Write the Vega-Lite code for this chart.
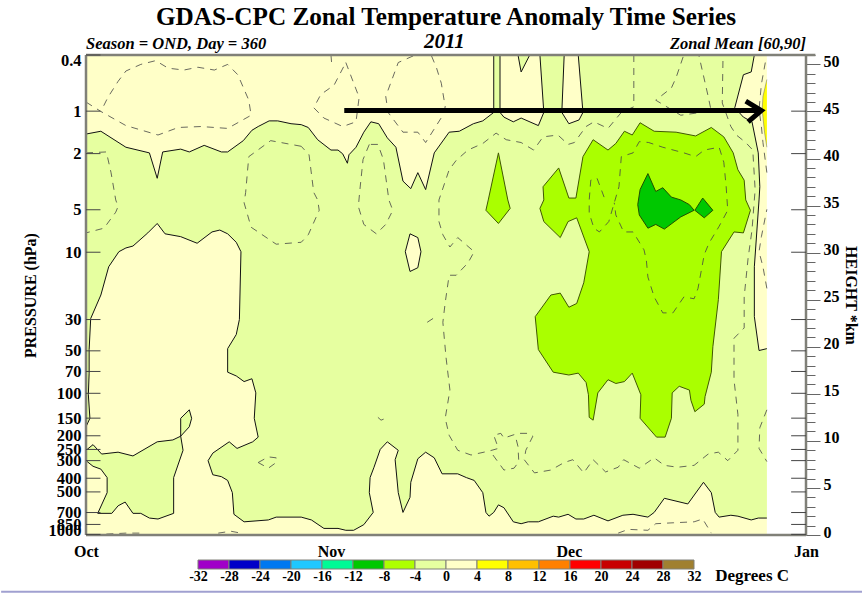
{"$schema":"https://vega.github.io/schema/vega-lite/v6.json","background":"white","padding":0,"bounds":"flush","spacing":5,"config":{"font":"Liberation Serif","view":{"stroke":null},"axis":{"grid":false}},
"datasets":{
"paleGreen":[{"d":87,"z":1.8},{"d":85.9,"z":1.8},{"d":85,"z":1.6},{"d":83.3,"z":2},{"d":82.4,"z":2.1},{"d":80.9,"z":1.9},{"d":80.4,"z":2.4},{"d":79.9,"z":4.5},{"d":78.9,"z":5.6},{"d":76.9,"z":3.3},{"d":73.9,"z":3.9},{"d":72.6,"z":2.4},{"d":71.8,"z":1.9},{"d":69.9,"z":2.2},{"d":68.6,"z":2.1},{"d":66.7,"z":1.5},{"d":64.9,"z":2.1},{"d":63.6,"z":1.7},{"d":62.6,"z":1.7},{"d":61.6,"z":2.2},{"d":60.4,"z":1.9},{"d":59.7,"z":2},{"d":57.8,"z":1.4},{"d":56.5,"z":1.4},{"d":55.6,"z":1.2},{"d":54.6,"z":1.4},{"d":53.4,"z":2.9},{"d":52.7,"z":3.2},{"d":52.1,"z":2.4},{"d":51.5,"z":2},{"d":51.1,"z":2.4},{"d":50.7,"z":4.5},{"d":49.6,"z":5.8},{"d":48.6,"z":6.1},{"d":47.5,"z":6.5},{"d":45.5,"z":6.5},{"d":44.5,"z":8.2},{"d":43.4,"z":8.8},{"d":42.4,"z":8.1},{"d":41.5,"z":5.6},{"d":41.4,"z":4},{"d":40.5,"z":2.4},{"d":39.9,"z":4.5},{"d":39.5,"z":8},{"d":39.9,"z":9},{"d":38.5,"z":9.9},{"d":37.6,"z":9.1},{"d":36.8,"z":7.2},{"d":36.3,"z":6.1},{"d":36.2,"z":4.5},{"d":36.7,"z":2.4},{"d":35.5,"z":1.1},{"d":34.2,"z":0.5},{"d":33.2,"z":0.5},{"d":32.2,"z":0.7},{"d":30.4,"z":0.7},{"d":28.8,"z":1.6},{"d":27.5,"z":1.9},{"d":24.3,"z":1.9},{"d":23.3,"z":1.6},{"d":20.2,"z":1.4},{"d":18.9,"z":2.2},{"d":18.7,"z":4.5},{"d":18.1,"z":5.8},{"d":17.3,"z":6.2},{"d":16.2,"z":6.4},{"d":15.6,"z":7.9},{"d":16.2,"z":8.7},{"d":18.3,"z":9.9},{"d":19.3,"z":9.2},{"d":21.3,"z":9.9},{"d":22,"z":10.4},{"d":21.5,"z":12.4},{"d":21.7,"z":15.1},{"d":21.2,"z":16.6},{"d":20.2,"z":16.3},{"d":19.2,"z":16.9},{"d":18.1,"z":17.3},{"d":18.1,"z":19.8},{"d":19.2,"z":21.3},{"d":19.6,"z":22.9},{"d":19.8,"z":30.1},{"d":19.2,"z":31.1},{"d":18.1,"z":32},{"d":17.1,"z":32.4},{"d":16.1,"z":32.2},{"d":14.2,"z":31},{"d":12.1,"z":31.7},{"d":10.1,"z":32},{"d":9.1,"z":33.1},{"d":7.9,"z":32.1},{"d":6,"z":30.7},{"d":5.1,"z":30.5},{"d":4.2,"z":30.1},{"d":2.9,"z":28.5},{"d":1.9,"z":25.5},{"d":0.6,"z":23},{"d":0.4,"z":19.7},{"d":0.4,"z":17.2},{"d":0.3,"z":14.9},{"d":0.5,"z":12.4},{"d":0,"z":11.5},{"d":0,"z":42.6},{"d":1.9,"z":42.9},{"d":5.1,"z":41.2},{"d":8.1,"z":40.6},{"d":9.1,"z":37.9},{"d":9.8,"z":40.7},{"d":12.1,"z":41},{"d":13.2,"z":40.7},{"d":15.1,"z":41.4},{"d":17.3,"z":40.7},{"d":18.1,"z":40.7},{"d":20.1,"z":41.9},{"d":21.2,"z":43},{"d":22,"z":43.4},{"d":23.4,"z":44},{"d":24.5,"z":44},{"d":26.2,"z":43.7},{"d":27.5,"z":43.6},{"d":28.4,"z":43.3},{"d":29.6,"z":42},{"d":31.3,"z":40.9},{"d":32.2,"z":40.9},{"d":32.8,"z":40.5},{"d":33.4,"z":39.5},{"d":33.6,"z":40.4},{"d":34.5,"z":41.2},{"d":35.5,"z":42.8},{"d":36.4,"z":43.9},{"d":37.4,"z":43.7},{"d":38.5,"z":42.2},{"d":39.6,"z":41.2},{"d":40.5,"z":37.6},{"d":41.5,"z":36.8},{"d":42.4,"z":38.5},{"d":43.4,"z":36.7},{"d":44.5,"z":40.6},{"d":46.4,"z":42.8},{"d":47.7,"z":42.9},{"d":49.5,"z":43.7},{"d":50.7,"z":44},{"d":52.1,"z":44.9},{"d":52.1,"z":51},{"d":52.9,"z":51},{"d":52.9,"z":44.9},{"d":53.4,"z":44.4},{"d":54.6,"z":43.9},{"d":55.6,"z":44.3},{"d":57.8,"z":43.5},{"d":58.5,"z":44.9},{"d":58,"z":51},{"d":61.1,"z":51},{"d":60.8,"z":44.9},{"d":61.7,"z":43.7},{"d":63,"z":44.1},{"d":63.5,"z":44.9},{"d":62.9,"z":51},{"d":85.4,"z":51},{"d":85,"z":49.2},{"d":84,"z":48.9},{"d":82.9,"z":45.4},{"d":84,"z":44.4},{"d":85.1,"z":43.9},{"d":85.9,"z":40.6},{"d":86.1,"z":37},{"d":86,"z":35.6},{"d":85.4,"z":28.5},{"d":85.4,"z":23.2},{"d":86,"z":19.6},{"d":87,"z":19.8}],
"paleGreen2":[{"s":"blob","d":0,"z":9},{"s":"blob","d":0.9,"z":9.6},{"s":"blob","d":2,"z":8.6},{"s":"blob","d":4.1,"z":8.8},{"s":"blob","d":6,"z":8.4},{"s":"blob","d":9.1,"z":9.9},{"s":"blob","d":11.1,"z":10.1},{"s":"blob","d":12.1,"z":10.5},{"s":"blob","d":13.2,"z":11.5},{"s":"blob","d":13.5,"z":12.4},{"s":"blob","d":13.2,"z":13.3},{"s":"blob","d":12.1,"z":12.4},{"s":"blob","d":12.1,"z":10.5},{"s":"blob","d":12.4,"z":9},{"s":"blob","d":11.2,"z":6.1},{"s":"blob","d":11.2,"z":2.3},{"s":"blob","d":9.2,"z":1.7},{"s":"blob","d":8.1,"z":1.8},{"s":"blob","d":7,"z":2.3},{"s":"blob","d":6,"z":2.3},{"s":"blob","d":5,"z":3.5},{"s":"blob","d":4.1,"z":3.1},{"s":"blob","d":3.3,"z":2.3},{"s":"blob","d":1.5,"z":2.3},{"s":"blob","d":2.7,"z":4.5},{"s":"blob","d":2.7,"z":6.1},{"s":"blob","d":1.9,"z":7},{"s":"blob","d":0.9,"z":7.3},{"s":"blob","d":0,"z":7.9},{"s":"notch","d":55.2,"z":51},{"s":"notch","d":55.6,"z":49.2},{"s":"notch","d":56.7,"z":51}],
"island":[{"d":41.4,"z":32},{"d":42.4,"z":31.6},{"d":42.8,"z":30.1},{"d":42.4,"z":28.4},{"d":41.4,"z":28},{"d":40.8,"z":30.1},{"d":41.4,"z":32}],
"lime":[{"s":"main","d":64.8,"z":42},{"s":"main","d":66.7,"z":40.9},{"s":"main","d":67.7,"z":41.6},{"s":"main","d":68.8,"z":42.9},{"s":"main","d":69.8,"z":42.5},{"s":"main","d":70.8,"z":43.8},{"s":"main","d":72.6,"z":42.9},{"s":"main","d":75.4,"z":42.8},{"s":"main","d":77.9,"z":42.4},{"s":"main","d":79.9,"z":43.3},{"s":"main","d":81.5,"z":42.3},{"s":"main","d":82.7,"z":40.6},{"s":"main","d":83.3,"z":38.8},{"s":"main","d":84.1,"z":37.7},{"s":"main","d":84.3,"z":35.6},{"s":"main","d":84.9,"z":34.5},{"s":"main","d":84,"z":32.1},{"s":"main","d":82.8,"z":32.2},{"s":"main","d":81.2,"z":30.1},{"s":"main","d":80.8,"z":25},{"s":"main","d":80.1,"z":20},{"s":"main","d":79.9,"z":17.3},{"s":"main","d":79.1,"z":14.7},{"s":"main","d":79,"z":13.9},{"s":"main","d":77.8,"z":13.1},{"s":"main","d":77.3,"z":14.3},{"s":"main","d":77.1,"z":15.4},{"s":"main","d":75.8,"z":15.8},{"s":"main","d":74.9,"z":15.1},{"s":"main","d":74.8,"z":12.4},{"s":"main","d":74,"z":10.4},{"s":"main","d":72.9,"z":10.4},{"s":"main","d":70.8,"z":12.4},{"s":"main","d":70.9,"z":14.9},{"s":"main","d":69.8,"z":17.2},{"s":"main","d":68.8,"z":16.3},{"s":"main","d":67.7,"z":16.1},{"s":"main","d":66.7,"z":16.5},{"s":"main","d":65.4,"z":15.1},{"s":"main","d":64.8,"z":12.2},{"s":"main","d":64.3,"z":12.5},{"s":"main","d":64.2,"z":14.9},{"s":"main","d":63.9,"z":16.2},{"s":"main","d":62.9,"z":17.2},{"s":"main","d":61.7,"z":17},{"s":"main","d":59.7,"z":17.3},{"s":"main","d":57.8,"z":19.7},{"s":"main","d":57.4,"z":23.2},{"s":"main","d":59.4,"z":25.5},{"s":"main","d":60.6,"z":25.7},{"s":"main","d":61.7,"z":24.2},{"s":"main","d":62.7,"z":24.6},{"s":"main","d":63.6,"z":26.8},{"s":"main","d":64.3,"z":30.1},{"s":"main","d":62.7,"z":33.7},{"s":"main","d":61.6,"z":33.3},{"s":"main","d":60.6,"z":31.6},{"s":"main","d":58.5,"z":33.3},{"s":"main","d":58,"z":34.7},{"s":"main","d":58.5,"z":35.6},{"s":"main","d":58.4,"z":37},{"s":"main","d":60.4,"z":39},{"s":"main","d":61.7,"z":35.8},{"s":"main","d":62.6,"z":35.8},{"s":"main","d":63.5,"z":40.2},{"s":"main","d":64.8,"z":42},{"s":"small","d":52.7,"z":40.6},{"s":"small","d":53.9,"z":35.6},{"s":"small","d":54.2,"z":34.7},{"s":"small","d":52.7,"z":33.1},{"s":"small","d":51.1,"z":34.5},{"s":"small","d":51.4,"z":35.6},{"s":"small","d":52.7,"z":40.6}],
"green":[{"s":"a","d":71.8,"z":38.4},{"s":"a","d":72.8,"z":36.5},{"s":"a","d":73.7,"z":36.9},{"s":"a","d":74.8,"z":35.9},{"s":"a","d":76,"z":35.6},{"s":"a","d":77.1,"z":35.1},{"s":"a","d":77.7,"z":34.5},{"s":"a","d":76,"z":33.8},{"s":"a","d":73.9,"z":32.5},{"s":"a","d":72.8,"z":33},{"s":"a","d":71.8,"z":32.6},{"s":"a","d":70.7,"z":34},{"s":"a","d":70.5,"z":35.1},{"s":"a","d":70.8,"z":36.7},{"s":"a","d":71.8,"z":38.4},{"s":"b","d":78.8,"z":35.8},{"s":"b","d":80.1,"z":34.5},{"s":"b","d":79,"z":33.7},{"s":"b","d":77.8,"z":34.5},{"s":"b","d":78.8,"z":35.8}],
"yellow":[{"d":87,"z":48.4},{"d":86.5,"z":46.6},{"d":86.4,"z":45.2},{"d":86.7,"z":42.8},{"d":87,"z":41.2}],
"dashed":[{"s":"1","d":0,"z":46},{"s":"1","d":1.9,"z":45},{"s":"1","d":5.1,"z":43.5},{"s":"1","d":9.2,"z":42.5},{"s":"1","d":11.8,"z":43.3},{"s":"1","d":14.7,"z":43.4},{"s":"1","d":18.1,"z":43.2},{"s":"1","d":21.1,"z":44.6},{"s":"1","d":20.8,"z":46.2},{"s":"1","d":19.4,"z":48.9},{"s":"1","d":18.1,"z":50},{"s":"1","d":16.4,"z":49.4},{"s":"1","d":14.3,"z":49.7},{"s":"1","d":12.5,"z":49.4},{"s":"1","d":10.5,"z":49.6},{"s":"1","d":8.9,"z":50.4},{"s":"1","d":7,"z":50},{"s":"1","d":5.1,"z":49.3},{"s":"1","d":4.1,"z":48.2},{"s":"1","d":2.8,"z":46.5},{"s":"1","d":1.9,"z":45},
{"s":"2","d":0,"z":40.6},{"s":"2","d":2.6,"z":40.7},{"s":"2","d":3.2,"z":38.5},{"s":"2","d":3.8,"z":35.6},{"s":"2","d":4.1,"z":34.9},{"s":"2","d":3.8,"z":34.3},{"s":"2","d":2.3,"z":32.6},{"s":"2","d":0,"z":32.1},
{"s":"3","d":27.5,"z":41.3},{"s":"3","d":23.6,"z":41.9},{"s":"3","d":20.8,"z":40.2},{"s":"3","d":20.4,"z":36.4},{"s":"3","d":20.2,"z":35.3},{"s":"3","d":21.1,"z":32.7},{"s":"3","d":24.3,"z":30.9},{"s":"3","d":27.5,"z":31.1},{"s":"3","d":28.4,"z":31.9},{"s":"3","d":29.8,"z":34.5},{"s":"3","d":29.6,"z":35.6},{"s":"3","d":29.1,"z":36.4},{"s":"3","d":28.5,"z":40.4},{"s":"3","d":27.5,"z":41.3},
{"s":"4","d":33.2,"z":50.2},{"s":"4","d":34.9,"z":46.5},{"s":"4","d":34.5,"z":43.9},{"s":"4","d":32.8,"z":43.4},{"s":"4","d":30.4,"z":44.3},{"s":"4","d":29.1,"z":45.4},{"s":"4","d":30,"z":46.8},{"s":"4","d":31.7,"z":47.8},{"s":"4","d":33.2,"z":50.2},
{"s":"4b","d":31.3,"z":51},{"s":"4b","d":31.4,"z":50},
{"s":"5","d":41.8,"z":50.9},{"s":"5","d":39.9,"z":50.2},{"s":"5","d":38.3,"z":46.6},{"s":"5","d":38.6,"z":44.9},{"s":"5","d":40.5,"z":42.8},{"s":"5","d":42.4,"z":42.8},{"s":"5","d":43.4,"z":41.7},{"s":"5","d":45.6,"z":44.6},{"s":"5","d":45.9,"z":45.5},{"s":"5","d":45.4,"z":48},{"s":"5","d":44.8,"z":49.6},{"s":"5","d":44.1,"z":51},
{"s":"6","d":36.2,"z":41.5},{"s":"6","d":35.4,"z":39.9},{"s":"6","d":35,"z":36.7},{"s":"6","d":34.8,"z":34.9},{"s":"6","d":35.5,"z":33},{"s":"6","d":37.1,"z":32},{"s":"6","d":38.3,"z":33},{"s":"6","d":39.2,"z":34.5},{"s":"6","d":38.7,"z":35.6},{"s":"6","d":38,"z":39.9},{"s":"6","d":37.3,"z":41.5},{"s":"6","d":36.2,"z":41.5},
{"s":"7","d":70,"z":51},{"s":"7","d":70,"z":45.5},{"s":"7","d":68.4,"z":44.9},{"s":"7","d":66.7,"z":43.2},{"s":"7","d":64.9,"z":43.9},{"s":"7","d":63.9,"z":43.4},{"s":"7","d":62.4,"z":41.7},{"s":"7","d":61.6,"z":41.5},{"s":"7","d":60.3,"z":42.5},{"s":"7","d":58.4,"z":42.3},{"s":"7","d":57.2,"z":40.9},{"s":"7","d":55.6,"z":41.7},{"s":"7","d":53.7,"z":42},{"s":"7","d":52.4,"z":42.7},{"s":"7","d":50.7,"z":41.6},{"s":"7","d":48.8,"z":40.9},{"s":"7","d":47.3,"z":39.8},{"s":"7","d":46.4,"z":38.8},{"s":"7","d":45.1,"z":35.6},{"s":"7","d":45.1,"z":33.3},{"s":"7","d":45.6,"z":31.9},{"s":"7","d":46.5,"z":30.6},{"s":"7","d":47.5,"z":31.6},{"s":"7","d":49.6,"z":30.1},{"s":"7","d":48.8,"z":28.9},{"s":"7","d":47.3,"z":27.6},{"s":"7","d":46.4,"z":27.6},{"s":"7","d":45.9,"z":24.7},{"s":"7","d":45.6,"z":22.6},{"s":"7","d":46,"z":18.9},{"s":"7","d":46.5,"z":15.4},{"s":"7","d":45.9,"z":12.4},{"s":"7","d":46.4,"z":10.6},{"s":"7","d":47.5,"z":9},{"s":"7","d":49.2,"z":8.5},{"s":"7","d":51.4,"z":8.9},{"s":"7","d":52.7,"z":9.2},{"s":"7","d":52.1,"z":10.6},{"s":"7","d":53,"z":10.8},{"s":"7","d":53.4,"z":10.3},{"s":"7","d":55.2,"z":10.8},{"s":"7","d":56.5,"z":10.8},{"s":"7","d":57.1,"z":10.5},{"s":"7","d":56.2,"z":9},{"s":"7","d":56,"z":8},{"s":"7","d":57.3,"z":6.6},{"s":"7","d":59.4,"z":6.9},{"s":"7","d":61.1,"z":7.7},{"s":"7","d":62.2,"z":8},{"s":"7","d":63.6,"z":6.6},{"s":"7","d":64.8,"z":8},{"s":"7","d":66.4,"z":6.7},{"s":"7","d":68,"z":7.2},{"s":"7","d":68.7,"z":8},{"s":"7","d":70.7,"z":7.1},{"s":"7","d":72.6,"z":8.2},{"s":"7","d":73.9,"z":7.4},{"s":"7","d":75.6,"z":7.2},{"s":"7","d":77.7,"z":7.4},{"s":"7","d":79.5,"z":8.6},{"s":"7","d":80.8,"z":8.8},{"s":"7","d":82,"z":7.9},{"s":"7","d":83.3,"z":9},{"s":"7","d":83.3,"z":12.8},{"s":"7","d":82.8,"z":16.5},{"s":"7","d":82.8,"z":20.9},{"s":"7","d":84.1,"z":22},{"s":"7","d":84.1,"z":25.3},{"s":"7","d":84.6,"z":29.4},{"s":"7","d":85.1,"z":32.4},{"s":"7","d":85.5,"z":36.7},{"s":"7","d":85.2,"z":40.9},{"s":"7","d":84.3,"z":41.7},{"s":"7","d":83.1,"z":42.5},{"s":"7","d":82.4,"z":43.4},{"s":"7","d":81.3,"z":45.9},{"s":"7","d":81.4,"z":51},
{"s":"8","d":76.3,"z":50.8},{"s":"8","d":75.4,"z":48.6},{"s":"8","d":74.8,"z":47.5},{"s":"8","d":72.8,"z":46.2},{"s":"8","d":76,"z":44.6},{"s":"8","d":78.6,"z":44.9},{"s":"8","d":79.9,"z":45},{"s":"8","d":79.5,"z":46.6},{"s":"8","d":78.3,"z":51},
{"s":"9","d":66.2,"z":35.9},{"s":"9","d":65.3,"z":37.9},{"s":"9","d":64.5,"z":37.7},{"s":"9","d":64.3,"z":35.6},{"s":"9","d":64.3,"z":34.2},{"s":"9","d":64.9,"z":32.6},{"s":"9","d":65.6,"z":32.2},{"s":"9","d":66.8,"z":33.3},{"s":"9","d":67.5,"z":35.3},{"s":"9","d":68.1,"z":37},{"s":"9","d":68.4,"z":40.2},{"s":"9","d":69.9,"z":40.6},{"s":"9","d":70.7,"z":41.8},{"s":"9","d":71.9,"z":41.7},{"s":"9","d":73.7,"z":41.2},{"s":"9","d":76.4,"z":40.6},{"s":"9","d":77.9,"z":40.2},{"s":"9","d":79,"z":40.9},{"s":"9","d":80.9,"z":41.2},{"s":"9","d":81.5,"z":39.6},{"s":"9","d":81.8,"z":37},{"s":"9","d":82,"z":34.5},{"s":"9","d":80.9,"z":32.8},{"s":"9","d":79.6,"z":31},{"s":"9","d":79,"z":29.8},{"s":"9","d":78.2,"z":26.2},{"s":"9","d":77.7,"z":25.1},{"s":"9","d":76.4,"z":25.3},{"s":"9","d":75,"z":23.6},{"s":"9","d":73.7,"z":23.6},{"s":"9","d":72.6,"z":25.3},{"s":"9","d":71.8,"z":27.4},{"s":"9","d":71.6,"z":29.2},{"s":"9","d":71.3,"z":30.3},{"s":"9","d":69.9,"z":32.2},{"s":"9","d":68.7,"z":32.2},{"s":"9","d":67.7,"z":34},{"s":"9","d":67.5,"z":35.3},
{"s":"10","d":52,"z":8.5},{"s":"10","d":53.4,"z":6.9},{"s":"10","d":54.7,"z":7.1},{"s":"10","d":55.3,"z":7.8},{"s":"10","d":55.2,"z":9.4},{"s":"10","d":54.9,"z":10.4},
{"s":"11","d":68,"z":0.2},{"s":"11","d":69.3,"z":0.6},{"s":"11","d":71.8,"z":0.5},{"s":"11","d":72.8,"z":1.2},{"s":"11","d":75.1,"z":1.3},{"s":"11","d":77.7,"z":1.4},{"s":"11","d":78.8,"z":1.7},{"s":"11","d":79.9,"z":0.2},
{"s":"12","d":16.9,"z":0.2},{"s":"12","d":18.5,"z":0.4},{"s":"12","d":19.8,"z":0.2},
{"s":"12b","d":2.6,"z":0.1},{"s":"12b","d":5.1,"z":0.2},{"s":"12b","d":7,"z":0.2},
{"s":"13","d":87,"z":13.3},{"s":"13","d":86.1,"z":11.4},{"s":"13","d":86,"z":9.2},{"s":"13","d":87,"z":7.8},
{"s":"14","d":87,"z":26.2},{"s":"14","d":86.5,"z":28.5},{"s":"14","d":86,"z":30.1},{"s":"14","d":86.3,"z":31.7},{"s":"14","d":87,"z":34.6},
{"s":"15","d":86.8,"z":50.2},{"s":"15","d":86.3,"z":47.9},{"s":"15","d":86,"z":45.2},{"s":"15","d":86.3,"z":43.4},{"s":"15","d":86.5,"z":41.7},{"s":"15","d":87,"z":38.5},
{"s":"16","d":22,"z":7.7},{"s":"16","d":23.3,"z":8.3},{"s":"16","d":24.3,"z":8.2},{"s":"16","d":24.3,"z":7.7},{"s":"16","d":23.3,"z":7.1},{"s":"16","d":22,"z":7.7},
{"s":"17","d":37.3,"z":12.5},{"s":"17","d":37.7,"z":12.2},{"s":"17","d":38.3,"z":12.4},
{"s":"18","d":43.6,"z":22.6},{"s":"18","d":44.7,"z":23.2}],
"arrow":[{"s":"shaft","d":33,"z":45.1},{"s":"shaft","d":86,"z":45.1},{"s":"head","d":84.3,"z":46.1},{"s":"head","d":86.3,"z":45.1},{"s":"head","d":84.6,"z":43.9}],
"pticks":[{"p":0.4,"a":0,"b":1.85},{"p":1,"a":0,"b":1.85},{"p":2,"a":0,"b":1.85},{"p":5,"a":0,"b":1.85},{"p":10,"a":0,"b":1.85},{"p":30,"a":0,"b":1.85},{"p":50,"a":0,"b":1.85},{"p":70,"a":0,"b":1.85},{"p":100,"a":0,"b":1.85},{"p":150,"a":0,"b":1.85},{"p":200,"a":0,"b":1.85},{"p":250,"a":0,"b":1.85},{"p":300,"a":0,"b":1.85},{"p":400,"a":0,"b":1.85},{"p":500,"a":0,"b":1.85},{"p":700,"a":0,"b":1.85},{"p":850,"a":0,"b":1.85},{"p":1000,"a":0,"b":1.85},{"p":1,"a":90.1,"b":92},{"p":2,"a":90.1,"b":92},{"p":5,"a":90.1,"b":92},{"p":10,"a":90.1,"b":92},{"p":30,"a":90.1,"b":92},{"p":50,"a":90.1,"b":92},{"p":70,"a":90.1,"b":92},{"p":100,"a":90.1,"b":92},{"p":150,"a":90.1,"b":92},{"p":200,"a":90.1,"b":92},{"p":250,"a":90.1,"b":92},{"p":300,"a":90.1,"b":92},{"p":400,"a":90.1,"b":92},{"p":500,"a":90.1,"b":92},{"p":700,"a":90.1,"b":92},{"p":850,"a":90.1,"b":92},{"p":1000,"a":90.1,"b":92}],
"frame":[{"a":0,"b":0,"y0":0,"y1":51},{"a":0,"b":93.2,"y0":51,"y1":51},{"a":0,"b":92,"y0":0,"y1":0},{"a":92,"b":92,"y0":0,"y1":51}],
"bands":[{"lo":-32,"hi":-28,"c":"#a000c8","y0":0,"y1":9},{"lo":-28,"hi":-24,"c":"#0000c8","y0":0,"y1":9},{"lo":-24,"hi":-20,"c":"#0078f0","y0":0,"y1":9},{"lo":-20,"hi":-16,"c":"#20c8ff","y0":0,"y1":9},{"lo":-16,"hi":-12,"c":"#00fa96","y0":0,"y1":9},{"lo":-12,"hi":-8,"c":"#00c800","y0":0,"y1":9},{"lo":-8,"hi":-4,"c":"#aeff00","y0":0,"y1":9},{"lo":-4,"hi":0,"c":"#e6ffa0","y0":0,"y1":9},{"lo":0,"hi":4,"c":"#ffffc8","y0":0,"y1":9},{"lo":4,"hi":8,"c":"#ffff00","y0":0,"y1":9},{"lo":8,"hi":12,"c":"#ffc000","y0":0,"y1":9},{"lo":12,"hi":16,"c":"#ff8000","y0":0,"y1":9},{"lo":16,"hi":20,"c":"#ff0000","y0":0,"y1":9},{"lo":20,"hi":24,"c":"#c80000","y0":0,"y1":9},{"lo":24,"hi":28,"c":"#a00000","y0":0,"y1":9},{"lo":28,"hi":32,"c":"#a08030","y0":0,"y1":9}]
},
"vconcat":[
{"width":720,"height":50,"layer":[
{"data":{"values":[{"t":"GDAS-CPC Zonal Temperature Anomaly Time Series","d":46,"h":33}]},"mark":{"type":"text","fontSize":25.2,"fontWeight":"bold","align":"center","baseline":"middle"},"encoding":{"x":{"field":"d","type":"quantitative","scale":{"domain":[0,92]},"axis":null},"y":{"field":"h","type":"quantitative","scale":{"domain":[0,50]},"axis":null},"text":{"field":"t"}}},
{"data":{"values":[{"t":"Season = OND, Day = 360","d":0,"h":6.5}]},"mark":{"type":"text","fontSize":16.5,"fontWeight":"bold","fontStyle":"italic","align":"left","baseline":"middle"},"encoding":{"x":{"field":"d","type":"quantitative","scale":{"domain":[0,92]},"axis":null},"y":{"field":"h","type":"quantitative","scale":{"domain":[0,50]},"axis":null},"text":{"field":"t"}}},
{"data":{"values":[{"t":"2011","d":45.8,"h":8}]},"mark":{"type":"text","fontSize":21,"fontWeight":"bold","fontStyle":"italic","align":"center","baseline":"middle"},"encoding":{"x":{"field":"d","type":"quantitative","scale":{"domain":[0,92]},"axis":null},"y":{"field":"h","type":"quantitative","scale":{"domain":[0,50]},"axis":null},"text":{"field":"t"}}},
{"data":{"values":[{"t":"Zonal Mean [60,90]","d":92,"h":6.5}]},"mark":{"type":"text","fontSize":16.5,"fontWeight":"bold","fontStyle":"italic","align":"right","baseline":"middle"},"encoding":{"x":{"field":"d","type":"quantitative","scale":{"domain":[0,92]},"axis":null},"y":{"field":"h","type":"quantitative","scale":{"domain":[0,50]},"axis":null},"text":{"field":"t"}}}
]},
{"width":720,"height":480,"resolve":{"scale":{"y":"independent"},"axis":{"y":"independent"}},"layer":[
{"encoding":{"x":{"field":"d","type":"quantitative","scale":{"domain":[0,92],"nice":false,"zero":false},"axis":{"orient":"bottom","values":[0,31.3,61.7,92],"title":null,"domain":false,"tickSize":-14,"tickColor":"#444","labelFontSize":16,"labelFontWeight":"bold","labelColor":"#000","labelPadding":22,"labelFlush":false,"labelExpr":"datum.value==0?'Oct':datum.value<40?'Nov':datum.value<70?'Dec':'Jan'"}},"y":{"field":"z","type":"quantitative","scale":{"domain":[0,51],"nice":false,"zero":false},"axis":{"orient":"right","title":"HEIGHT *km","titleFontSize":16,"titleFontWeight":"bold","titleColor":"#000","titleAngle":90,"titlePadding":3,"domain":false,"values":[0,1,2,3,4,5,6,7,8,9,10,11,12,13,14,15,16,17,18,19,20,21,22,23,24,25,26,27,28,29,30,31,32,33,34,35,36,37,38,39,40,41,42,43,44,45,46,47,48,49,50,51],"tickColor":"#666","tickSize":{"condition":{"test":"datum.value%5==0","value":14},"value":9},"labelFontSize":16,"labelFontWeight":"bold","labelColor":"#000","labelOverlap":false,"labelBound":false,"labelOffset":-3,"labelPadding":3,"labelExpr":"datum.value%5==0&&datum.value<=50?datum.value:''"}}},
"layer":[
{"data":{"values":[{"d":0,"d2":87,"z":0,"z2":51}]},"mark":{"type":"rect","fill":"#ffffc8"},"encoding":{"x2":{"field":"d2"},"y2":{"field":"z2"}}},
{"data":{"name":"paleGreen"},"mark":{"type":"line","fill":"#e6ffa0","fillOpacity":1,"opacity":1,"stroke":"#111","strokeWidth":1},"encoding":{"order":{"value":null}}},
{"data":{"name":"paleGreen2"},"mark":{"type":"line","fill":"#e6ffa0","fillOpacity":1,"opacity":1,"stroke":"#111","strokeWidth":1},"encoding":{"detail":{"field":"s"},"order":{"value":null}}},
{"data":{"name":"island"},"mark":{"type":"line","fill":"#ffffc8","fillOpacity":1,"opacity":1,"stroke":"#111","strokeWidth":1},"encoding":{"order":{"value":null}}},
{"data":{"name":"yellow"},"mark":{"type":"line","fill":"#ffff00","fillOpacity":1,"opacity":1,"stroke":"#666","strokeWidth":0.5},"encoding":{"order":{"value":null}}},
{"data":{"name":"lime"},"mark":{"type":"line","fill":"#aaff00","fillOpacity":1,"opacity":1,"stroke":"#405800","strokeWidth":1},"encoding":{"detail":{"field":"s"},"order":{"value":null}}},
{"data":{"name":"green"},"mark":{"type":"line","fill":"#00c800","fillOpacity":1,"opacity":1,"stroke":"#205000","strokeWidth":1},"encoding":{"detail":{"field":"s"},"order":{"value":null}}},
{"data":{"name":"dashed"},"mark":{"type":"line","stroke":"#444","strokeWidth":0.8,"strokeDash":[7,6]},"encoding":{"detail":{"field":"s"},"order":{"value":null}}},
{"data":{"name":"arrow"},"mark":{"type":"line","stroke":"#000","strokeWidth":5},"encoding":{"detail":{"field":"s"},"order":{"value":null}}},
{"data":{"name":"frame"},"mark":{"type":"rule","stroke":"#808078","strokeWidth":2.5},"encoding":{"x":{"field":"a","type":"quantitative"},"x2":{"field":"b"},"y":{"field":"y0","type":"quantitative"},"y2":{"field":"y1"}}}
]},
{"layer":[
{"data":{"name":"pticks"},"mark":{"type":"rule","stroke":"#444","strokeWidth":1},"encoding":{"x":{"field":"a","type":"quantitative","scale":{"domain":[0,92],"nice":false,"zero":false}},"x2":{"field":"b"},"y":{"field":"p","type":"quantitative","scale":{"type":"log","domain":[0.4,1010],"nice":false,"reverse":true},"axis":{"orient":"left","title":"PRESSURE (hPa)","titleFontSize":16,"titleFontWeight":"bold","titleColor":"#000","titlePadding":10,"domain":false,"ticks":false,"values":[0.4,1,2,5,10,30,50,70,100,150,200,250,300,400,500,700,850,1000],"labelFontSize":16.5,"labelFontWeight":"bold","labelColor":"#000","labelOverlap":false,"labelBound":false,"labelPadding":5,"labelOffset":{"condition":[{"test":"datum.value==0.4","value":5},{"test":"datum.value==1000","value":-4}],"value":0},"format":"~g"}}}}
]}
]},
{"width":720,"height":29,"layer":[
{"data":{"name":"bands"},"mark":{"type":"rect","stroke":"#808078","strokeWidth":1},"encoding":{"x":{"field":"lo","type":"quantitative","scale":{"domain":[-46.45,46.45],"nice":false,"zero":false},"axis":{"orient":"bottom","values":[-32,-28,-24,-20,-16,-12,-8,-4,0,4,8,12,16,20,24,28,32],"title":null,"domain":false,"ticks":false,"labelFontSize":14,"labelFontWeight":"bold","labelColor":"#000","labelPadding":0,"labelOverlap":false,"labelBound":false,"labelFlush":false,"labelExpr":"''+datum.value"}},"x2":{"field":"hi"},"y":{"field":"y0","type":"quantitative","scale":{"domain":[0,29],"nice":false,"zero":false},"axis":null},"y2":{"field":"y1"},"fill":{"field":"c","type":"nominal","scale":null}}},
{"data":{"values":[{"t":"Degrees C","v":39.5,"h":-7}]},"mark":{"type":"text","fontSize":17,"fontWeight":"bold","align":"center","baseline":"middle"},"encoding":{"x":{"field":"v","type":"quantitative"},"y":{"field":"h","type":"quantitative"},"text":{"field":"t"}}},
{"data":{"values":[{"a":-57.4,"b":53.8,"h":-22.7}]},"mark":{"type":"rule","stroke":"#a0a0d0","strokeWidth":2},"encoding":{"x":{"field":"a","type":"quantitative"},"x2":{"field":"b"},"y":{"field":"h","type":"quantitative"}}}
]}
]}
